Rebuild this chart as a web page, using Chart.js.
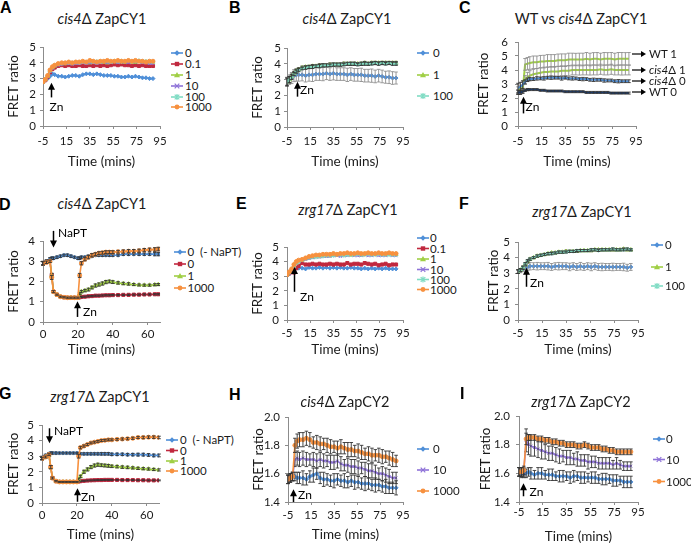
<!DOCTYPE html>
<html>
<head>
<meta charset="utf-8">
<script src="https://cdn.jsdelivr.net/npm/chart.js@4.4.0/dist/chart.umd.min.js"></script>
<style>
  html, body { margin: 0; padding: 0; background: #fff; }
  #fig { position: relative; width: 691px; height: 544px; overflow: hidden; font-family: Lato, "Open Sans", sans-serif; color: #1a1a1a; }
  #fig canvas { position: absolute; }
  .letter { position: absolute; font: bold 16px "Liberation Sans", Arial, sans-serif; line-height: 16px; color: #000; }
  .title { position: absolute; font-size: 14.5px; line-height: 1; white-space: nowrap; transform: translate(-50%, -50%); }
  .leg { position: absolute; font-size: 11.5px; line-height: 1; white-space: pre; transform: translateY(-50%); }
  #overlay { position: absolute; left: 0; top: 0; pointer-events: none; }
</style>
</head>
<body>
<div id="fig"></div>
<script>
// time points (minutes)
const T = [-5,-3,-1,1,3,5,8,11,14,17,20,23,26,29,32,35,38,41,44,47,50,53,56,59,62,65,68,71,74,77,80,83,86,89]
const TD = [0,2,4,5,6,8,10,12,14,16,18,20,21,22,24,26,28,30,32,34,36,38,40,43,46,49,52,55,58,61,64,66]
const TG = [0,2,4,5,6,8,10,12,14,16,18,20,21,22,24,26,28,30,32,34,36,38,40,43,46,49,52,55,58,61,64,67]

const xTicks95 = [-5,15,35,55,75,95]
const xTicks60 = [0,20,40,60]
const yTicks4 = [0,1,2,3,4]
const yTicks5 = [0,1,2,3,4,5]
const yTicks6 = [0,1,2,3,4,5,6]
const yTicksCY2 = [1.4,1.6,1.8,2.0]

// A: cis4 ZapCY1
const aBlue = [2.85,2.9,3.0,3.15,3.3,3.25,3.15,3.15,3.1,3.15,3.2,3.2,3.15,3.25,3.3,3.3,3.25,3.3,3.25,3.2,3.2,3.2,3.15,3.15,3.1,3.1,3.15,3.1,3.15,3.1,3.05,3.05,3.0,3.0]
const aRed = [2.8,2.9,3.1,3.4,3.6,3.7,3.8,3.85,3.8,3.85,3.8,3.8,3.85,3.8,3.8,3.85,3.8,3.85,3.8,3.85,3.8,3.85,3.9,3.85,3.9,3.85,3.85,3.8,3.85,3.8,3.85,3.8,3.8,3.8]
const aGreen = [2.8,2.95,3.15,3.5,3.7,3.8,3.9,3.95,3.95,4.0,3.95,4.0,4.0,4.05,4.0,4.0,4.05,4.0,4.05,4.05,4.0,4.05,4.1,4.05,4.1,4.05,4.1,4.05,4.05,4.1,4.05,4.05,4.0,4.05]
const aPurple = [2.8,2.9,3.1,3.45,3.65,3.8,3.85,3.9,3.95,3.95,3.9,3.95,3.95,4.0,3.95,4.0,4.0,3.95,4.0,4.05,4.0,4.0,4.05,4.0,4.05,4.05,4.0,4.05,4.1,4.05,4.0,4.0,3.95,3.95]
const aTeal = [2.8,2.95,3.2,3.5,3.7,3.85,3.9,3.95,4.0,4.0,4.0,4.05,4.0,4.05,4.05,4.1,4.05,4.1,4.05,4.1,4.1,4.05,4.1,4.1,4.05,4.1,4.15,4.1,4.1,4.15,4.1,4.1,4.05,4.05]
const aOrange = [2.8,2.95,3.2,3.55,3.75,3.85,3.95,4.0,4.0,4.05,4.0,4.05,4.05,4.1,4.05,4.15,4.1,4.05,4.1,4.1,4.15,4.1,4.1,4.15,4.1,4.1,4.15,4.1,4.15,4.1,4.1,4.05,4.1,4.1]

// B: cis4 ZapCY1 with error bars
const bBlue = [2.9,3.0,3.1,3.25,3.3,3.3,3.3,3.25,3.3,3.3,3.35,3.35,3.35,3.4,3.35,3.4,3.35,3.35,3.35,3.3,3.35,3.3,3.3,3.3,3.25,3.25,3.25,3.2,3.25,3.2,3.15,3.15,3.1,3.1]
const bBlueErr = [0.25,0.3,0.35,0.38,0.4,0.4,0.38,0.4,0.4,0.42,0.4,0.4,0.42,0.4,0.4,0.42,0.4,0.4,0.4,0.42,0.4,0.4,0.4,0.42,0.4,0.4,0.42,0.4,0.4,0.4,0.38,0.4,0.4,0.38]
const bGreen = [2.85,3.0,3.2,3.4,3.55,3.65,3.75,3.8,3.8,3.85,3.85,3.9,3.9,3.9,3.95,3.95,3.95,3.95,4.0,4.0,4.0,4.0,4.0,4.0,4.05,4.0,4.05,4.05,4.05,4.05,4.05,4.05,4.05,4.05]
const bGreenErr = [0.25,0.2,0.15,0.12,0.1,0.1,0.1,0.08,0.1,0.1,0.08,0.1,0.1,0.08,0.1,0.1,0.08,0.1,0.1,0.08,0.1,0.1,0.08,0.1,0.1,0.08,0.1,0.1,0.08,0.1,0.1,0.08,0.1,0.1]
const bTeal = [2.85,3.0,3.15,3.35,3.5,3.6,3.7,3.75,3.8,3.8,3.85,3.85,3.9,3.9,3.9,3.95,3.95,3.95,3.95,4.0,4.0,4.0,3.95,4.0,4.0,4.0,4.0,4.05,4.0,4.05,4.0,4.05,4.0,4.0]
const bTealErr = [0.25,0.2,0.15,0.1,0.1,0.1,0.08,0.1,0.1,0.1,0.08,0.1,0.1,0.1,0.08,0.1,0.1,0.1,0.08,0.1,0.1,0.1,0.08,0.1,0.1,0.1,0.08,0.1,0.1,0.1,0.08,0.1,0.1,0.1]

// C: WT vs cis4
const cWT1 = [2.45,2.5,2.55,4.4,4.45,4.5,4.55,4.55,4.6,4.6,4.65,4.65,4.65,4.7,4.7,4.7,4.75,4.75,4.75,4.75,4.75,4.8,4.75,4.8,4.8,4.75,4.8,4.8,4.8,4.75,4.8,4.8,4.8,4.8]
const cWT1Err = [0.15,0.15,0.15,0.42,0.44,0.45,0.45,0.45,0.44,0.45,0.45,0.45,0.45,0.44,0.45,0.45,0.45,0.45,0.44,0.45,0.45,0.45,0.45,0.44,0.45,0.45,0.45,0.44,0.45,0.45,0.45,0.45,0.44,0.45]
const cC1 = [2.6,2.7,2.9,3.3,3.5,3.6,3.7,3.75,3.8,3.85,3.85,3.9,3.9,3.9,3.95,3.95,3.95,4.0,4.0,4.0,4.0,4.0,4.0,4.0,4.0,4.05,4.0,4.0,4.05,4.0,4.0,4.0,4.0,4.0]
const cC1Err = [0.2,0.22,0.25,0.3,0.33,0.35,0.35,0.36,0.35,0.35,0.36,0.35,0.35,0.36,0.35,0.35,0.36,0.35,0.35,0.36,0.35,0.35,0.36,0.35,0.35,0.36,0.35,0.35,0.36,0.35,0.35,0.36,0.35,0.35]
const cC0 = [2.7,2.8,2.95,3.15,3.3,3.35,3.35,3.4,3.4,3.4,3.45,3.45,3.45,3.45,3.4,3.45,3.4,3.4,3.4,3.35,3.35,3.35,3.3,3.3,3.3,3.3,3.25,3.25,3.25,3.2,3.2,3.2,3.2,3.2]
const cC0Err = [0.35,0.32,0.28,0.15,0.12,0.12,0.1,0.12,0.1,0.12,0.1,0.12,0.1,0.1,0.12,0.1,0.1,0.12,0.1,0.1,0.12,0.1,0.1,0.12,0.1,0.1,0.12,0.1,0.1,0.1,0.12,0.1,0.1,0.1]
const cWT0 = [2.4,2.4,2.45,2.55,2.6,2.6,2.6,2.6,2.55,2.55,2.5,2.5,2.5,2.5,2.5,2.45,2.45,2.45,2.45,2.45,2.45,2.4,2.4,2.4,2.4,2.4,2.4,2.4,2.35,2.35,2.35,2.35,2.35,2.35]
const cWT0Err = [0.15,0.15,0.12,0.08,0.08,0.07,0.07,0.07,0.07,0.07,0.07,0.07,0.07,0.07,0.07,0.07,0.07,0.07,0.07,0.07,0.07,0.07,0.07,0.07,0.07,0.07,0.07,0.07,0.07,0.07,0.07,0.07,0.07,0.07]

// D: cis4 + NaPT
const dBlue = [2.9,3.0,3.1,3.15,3.15,3.2,3.25,3.3,3.3,3.25,3.2,3.15,3.15,3.2,3.2,3.25,3.25,3.3,3.3,3.3,3.3,3.3,3.3,3.3,3.35,3.35,3.35,3.35,3.35,3.35,3.35,3.35]
const dBlueErr = [0.1,0.08,0.08,0.06,0.06,0.06,0.06,0.05,0.06,0.06,0.05,0.06,0.06,0.06,0.05,0.06,0.06,0.05,0.06,0.06,0.05,0.06,0.06,0.05,0.06,0.06,0.05,0.06,0.06,0.06,0.08,0.08]
const dRed = [2.9,2.95,3.0,2.3,1.5,1.35,1.25,1.22,1.2,1.2,1.2,1.2,1.22,1.24,1.25,1.27,1.28,1.3,1.3,1.31,1.32,1.32,1.33,1.33,1.34,1.34,1.35,1.35,1.36,1.36,1.37,1.37]
const dRedErr = [0.08,0.06,0.06,0.1,0.05,0.03,0.03,0.03,0.03,0.03,0.03,0.03,0.03,0.03,0.03,0.03,0.03,0.03,0.03,0.03,0.03,0.03,0.03,0.03,0.03,0.03,0.03,0.03,0.03,0.03,0.03,0.03]
const dGreen = [2.9,2.95,3.0,2.3,1.5,1.35,1.25,1.22,1.2,1.2,1.2,1.2,1.4,1.5,1.55,1.6,1.7,1.8,1.85,1.9,1.97,2.0,1.97,1.93,1.9,1.88,1.85,1.83,1.82,1.82,1.84,1.85]
const dGreenErr = [0.08,0.06,0.06,0.1,0.05,0.03,0.03,0.03,0.03,0.03,0.03,0.03,0.05,0.06,0.06,0.07,0.07,0.08,0.08,0.08,0.08,0.07,0.07,0.06,0.06,0.06,0.05,0.05,0.05,0.05,0.05,0.05]
const dOrange = [2.9,2.95,3.0,2.2,1.5,1.35,1.25,1.22,1.2,1.2,1.2,1.2,2.3,2.9,3.1,3.2,3.3,3.35,3.4,3.42,3.45,3.45,3.45,3.47,3.48,3.5,3.5,3.52,3.55,3.57,3.58,3.6]
const dOrangeErr = [0.08,0.06,0.06,0.1,0.05,0.03,0.03,0.03,0.03,0.03,0.03,0.03,0.1,0.08,0.08,0.08,0.08,0.07,0.07,0.07,0.07,0.07,0.07,0.07,0.08,0.08,0.08,0.08,0.08,0.08,0.09,0.09]

// E: zrg17 ZapCY1
const eBlue = [3.1,3.15,3.3,3.5,3.55,3.55,3.55,3.5,3.6,3.55,3.55,3.6,3.55,3.6,3.55,3.6,3.55,3.6,3.55,3.55,3.6,3.55,3.55,3.5,3.55,3.5,3.55,3.5,3.55,3.5,3.55,3.5,3.5,3.5]
const eRed = [3.1,3.2,3.3,3.25,3.55,3.7,3.9,3.8,3.8,3.85,3.8,3.85,3.8,3.8,3.85,3.8,3.85,3.8,3.8,3.9,3.8,3.85,3.85,3.8,3.9,3.85,3.8,3.85,3.75,3.8,3.85,3.75,3.8,3.8]
const eGreen = [3.1,3.25,3.45,3.7,3.9,4.0,4.1,4.2,4.25,4.3,4.35,4.35,4.4,4.4,4.4,4.45,4.45,4.45,4.45,4.5,4.45,4.5,4.5,4.45,4.5,4.5,4.5,4.5,4.5,4.5,4.5,4.5,4.5,4.5]
const ePurple = [3.1,3.2,3.4,3.65,3.85,3.95,4.05,4.15,4.2,4.25,4.3,4.3,4.35,4.35,4.35,4.4,4.4,4.35,4.4,4.4,4.45,4.4,4.4,4.4,4.45,4.4,4.4,4.45,4.4,4.4,4.4,4.45,4.4,4.4]
const eTeal = [3.1,3.25,3.45,3.7,3.9,4.0,4.1,4.2,4.25,4.3,4.3,4.35,4.35,4.4,4.4,4.4,4.45,4.45,4.4,4.45,4.45,4.45,4.5,4.45,4.45,4.5,4.45,4.45,4.5,4.45,4.45,4.45,4.45,4.45]
const eOrange = [3.1,3.3,3.5,3.8,4.0,4.1,4.15,4.25,4.35,4.4,4.45,4.45,4.5,4.5,4.5,4.55,4.5,4.55,4.55,4.6,4.55,4.55,4.6,4.55,4.55,4.6,4.55,4.55,4.6,4.55,4.55,4.6,4.55,4.55]

// F: zrg17 ZapCY1 with error bars
const fBlue = [3.1,3.15,3.25,3.35,3.4,3.45,3.45,3.45,3.45,3.45,3.45,3.4,3.45,3.45,3.45,3.45,3.4,3.45,3.4,3.45,3.4,3.45,3.4,3.45,3.4,3.4,3.4,3.4,3.4,3.4,3.4,3.4,3.35,3.4]
const fBlueErr = [0.1,0.12,0.15,0.2,0.22,0.24,0.22,0.24,0.22,0.22,0.24,0.22,0.22,0.24,0.22,0.22,0.24,0.22,0.22,0.24,0.22,0.22,0.24,0.22,0.22,0.24,0.22,0.22,0.24,0.22,0.22,0.24,0.22,0.22]
const fGreen = [3.1,3.2,3.35,3.55,3.75,3.9,4.0,4.1,4.15,4.2,4.25,4.3,4.3,4.35,4.35,4.4,4.4,4.4,4.4,4.45,4.45,4.45,4.45,4.5,4.5,4.5,4.5,4.5,4.5,4.5,4.5,4.55,4.5,4.5]
const fGreenErr = [0.12,0.1,0.1,0.08,0.08,0.07,0.07,0.07,0.06,0.07,0.07,0.06,0.07,0.07,0.06,0.07,0.07,0.06,0.07,0.07,0.06,0.07,0.07,0.06,0.07,0.07,0.06,0.07,0.07,0.06,0.07,0.07,0.06,0.07]
const fTeal = [3.1,3.2,3.35,3.6,3.8,3.9,4.0,4.1,4.15,4.2,4.25,4.25,4.3,4.35,4.35,4.35,4.4,4.4,4.45,4.45,4.45,4.45,4.5,4.5,4.45,4.5,4.5,4.5,4.55,4.5,4.5,4.5,4.55,4.5]
const fTealErr = [0.12,0.1,0.1,0.08,0.07,0.07,0.06,0.07,0.07,0.06,0.07,0.07,0.06,0.07,0.07,0.06,0.07,0.07,0.06,0.07,0.07,0.06,0.07,0.07,0.06,0.07,0.07,0.06,0.07,0.07,0.06,0.07,0.07,0.06]

// G: zrg17 + NaPT
const gBlue = [2.9,3.05,3.15,3.2,3.2,3.2,3.2,3.2,3.2,3.2,3.2,3.2,3.15,3.15,3.15,3.15,3.15,3.15,3.15,3.15,3.15,3.15,3.12,3.12,3.12,3.1,3.1,3.1,3.1,3.08,3.05,3.05]
const gBlueErr = [0.1,0.08,0.08,0.07,0.07,0.07,0.06,0.06,0.06,0.06,0.06,0.06,0.06,0.07,0.07,0.07,0.07,0.07,0.07,0.08,0.08,0.08,0.08,0.08,0.08,0.08,0.08,0.09,0.09,0.09,0.09,0.09]
const gRed = [2.85,2.95,3.05,2.3,1.6,1.4,1.35,1.35,1.35,1.35,1.35,1.35,1.38,1.4,1.42,1.44,1.45,1.46,1.47,1.47,1.48,1.48,1.48,1.48,1.47,1.47,1.47,1.46,1.46,1.45,1.45,1.45]
const gRedErr = [0.08,0.06,0.06,0.1,0.06,0.04,0.03,0.03,0.03,0.03,0.03,0.03,0.03,0.03,0.03,0.03,0.03,0.03,0.03,0.03,0.03,0.03,0.03,0.03,0.03,0.03,0.03,0.03,0.03,0.03,0.03,0.03]
const gGreen = [2.85,2.95,3.05,2.3,1.6,1.4,1.35,1.35,1.35,1.35,1.35,1.35,1.5,1.7,2.0,2.15,2.3,2.4,2.45,2.42,2.4,2.38,2.35,2.33,2.3,2.28,2.25,2.22,2.2,2.18,2.15,2.12]
const gGreenErr = [0.08,0.06,0.06,0.1,0.06,0.04,0.03,0.03,0.03,0.03,0.03,0.03,0.06,0.08,0.1,0.1,0.1,0.1,0.1,0.09,0.09,0.09,0.08,0.08,0.08,0.08,0.07,0.07,0.07,0.07,0.07,0.07]
const gOrange = [2.85,2.95,3.1,2.3,1.6,1.4,1.35,1.35,1.35,1.35,1.35,1.35,3.0,3.55,3.65,3.75,3.85,3.9,3.95,4.0,4.02,4.05,4.05,4.08,4.1,4.12,4.15,4.2,4.2,4.22,4.22,4.2]
const gOrangeErr = [0.08,0.06,0.06,0.1,0.06,0.04,0.03,0.03,0.03,0.03,0.03,0.03,0.12,0.08,0.07,0.07,0.06,0.06,0.06,0.06,0.06,0.06,0.06,0.06,0.07,0.07,0.07,0.07,0.08,0.08,0.08,0.08]

// H: cis4 ZapCY2
const hBlue = [1.56,1.57,1.58,1.58,1.57,1.57,1.57,1.56,1.58,1.59,1.6,1.57,1.56,1.56,1.55,1.55,1.56,1.55,1.55,1.54,1.55,1.54,1.54,1.53,1.53,1.53,1.52,1.52,1.52,1.51,1.51,1.5,1.5,1.5]
const hBlueErr = [0.03,0.03,0.03,0.03,0.04,0.04,0.05,0.04,0.04,0.05,0.04,0.04,0.05,0.04,0.04,0.05,0.04,0.04,0.05,0.04,0.04,0.05,0.04,0.04,0.05,0.04,0.04,0.05,0.04,0.04,0.05,0.04,0.04,0.05]
const hPurple = [1.56,1.57,1.58,1.70,1.71,1.70,1.71,1.70,1.70,1.70,1.69,1.70,1.69,1.69,1.68,1.68,1.69,1.67,1.66,1.66,1.65,1.65,1.64,1.64,1.63,1.62,1.62,1.61,1.60,1.60,1.59,1.58,1.57,1.57]
const hPurpleErr = [0.03,0.03,0.03,0.05,0.05,0.05,0.05,0.05,0.04,0.05,0.05,0.05,0.05,0.04,0.05,0.05,0.05,0.05,0.04,0.05,0.05,0.05,0.05,0.04,0.05,0.05,0.05,0.05,0.04,0.05,0.05,0.05,0.04,0.04]
const hOrange = [1.56,1.57,1.58,1.80,1.83,1.84,1.84,1.85,1.84,1.82,1.82,1.81,1.81,1.80,1.79,1.79,1.78,1.79,1.78,1.77,1.77,1.76,1.76,1.75,1.74,1.74,1.73,1.73,1.73,1.72,1.72,1.71,1.70,1.69]
const hOrangeErr = [0.03,0.03,0.03,0.05,0.05,0.05,0.05,0.05,0.05,0.04,0.05,0.05,0.04,0.05,0.05,0.04,0.05,0.05,0.04,0.05,0.05,0.04,0.05,0.05,0.04,0.05,0.05,0.04,0.05,0.05,0.04,0.05,0.05,0.04]

// I: zrg17 ZapCY2
const iBlue = [1.61,1.6,1.6,1.6,1.61,1.6,1.59,1.6,1.6,1.59,1.59,1.59,1.58,1.58,1.58,1.58,1.57,1.58,1.58,1.57,1.57,1.57,1.57,1.57,1.56,1.56,1.56,1.56,1.55,1.55,1.55,1.54,1.54,1.54]
const iBlueErr = [0.03,0.03,0.03,0.03,0.03,0.04,0.03,0.04,0.04,0.03,0.04,0.04,0.03,0.04,0.04,0.03,0.04,0.04,0.03,0.04,0.04,0.03,0.04,0.04,0.03,0.04,0.04,0.03,0.04,0.04,0.03,0.04,0.04,0.04]
const iPurple = [1.61,1.61,1.61,1.83,1.80,1.79,1.78,1.77,1.76,1.75,1.74,1.74,1.73,1.72,1.72,1.71,1.71,1.70,1.70,1.69,1.69,1.68,1.68,1.68,1.67,1.67,1.67,1.67,1.66,1.67,1.66,1.65,1.65,1.65]
const iPurpleErr = [0.03,0.03,0.03,0.08,0.07,0.07,0.06,0.06,0.06,0.05,0.05,0.05,0.05,0.05,0.04,0.05,0.05,0.04,0.05,0.04,0.04,0.05,0.04,0.04,0.04,0.04,0.04,0.04,0.03,0.04,0.03,0.03,0.03,0.03]
const iOrange = [1.61,1.61,1.62,1.84,1.85,1.85,1.85,1.84,1.84,1.83,1.83,1.82,1.82,1.81,1.81,1.80,1.80,1.80,1.79,1.79,1.80,1.79,1.78,1.78,1.78,1.77,1.77,1.76,1.76,1.75,1.75,1.75,1.75,1.75]
const iOrangeErr = [0.03,0.03,0.03,0.04,0.02,0.02,0.02,0.02,0.02,0.02,0.02,0.02,0.02,0.02,0.02,0.02,0.02,0.02,0.02,0.02,0.02,0.02,0.02,0.02,0.02,0.02,0.02,0.02,0.02,0.02,0.02,0.02,0.02,0.02]

const BLUE = "#4f8fd8", RED = "#c0283e", GREEN = "#a0cf45", PURPLE = "#8e72d8"
const TEAL = "#80dcc4", ORANGE = "#f7913f", NAVY = "#1c3c6e"
const GREY = "#8f8f8f", DARK = "#333333"

const STY = {
  "0": [BLUE, "rectRot"], "0.1": [RED, "rect"], "1": [GREEN, "triangle"],
  "10": [PURPLE, "crossRot"], "100": [TEAL, "star"], "1000": [ORANGE, "circle"]
}
const ser = (label, key, data, err, errColor) =>
  ({ label, color: STY[key][0], point: STY[key][1], data, err, errColor })

Chart.defaults.font.family = "Lato, 'Open Sans', sans-serif"
Chart.defaults.color = "#1a1a1a"

const panels = [
  { letter: "A", letterAt: [0, 0], title: "<i>cis4</i>Δ ZapCY1", titleAt: [102, 19],
    area: [43, 47, 160, 126], x: [-5, 95], xTicks: xTicks95, y: [0, 5], yTicks: yTicks5, times: T,
    pads: { yTitle: 10.2, xTitle: 2.2, xTick: 5.4, yTick: 4 },
    series: [ser("0", "0", aBlue), ser("0.1", "0.1", aRed), ser("1", "1", aGreen),
             ser("10", "10", aPurple), ser("100", "100", aTeal), ser("1000", "1000", aOrange)],
    legend: { mx: 177, tx: 185, rows: [53, 64, 75, 86, 97, 107] },
    arrows: [{ x: 1.8, from: 1.81, to: 2.73, text: "Zn", dx: 5, dy: 10 }] },
  { letter: "B", letterAt: [229, 0], title: "<i>cis4</i>Δ ZapCY1", titleAt: [347, 19],
    area: [287, 48, 403, 127], x: [-5, 95], xTicks: xTicks95, y: [0, 5], yTicks: yTicks5, times: T,
    pads: { yTitle: 10.2, xTitle: 3.2, xTick: 4.4, yTick: 3 },
    series: [ser("0", "0", bBlue, bBlueErr, GREY), ser("1", "1", bGreen, bGreenErr, DARK),
             ser("100", "100", bTeal, bTealErr, DARK)],
    legend: { mx: 423, tx: 433, rows: [53, 75, 96] },
    arrows: [{ x: 3.4, from: 1.92, to: 2.87, text: "Zn", dx: 9.5, dy: -7 }] },
  { letter: "C", letterAt: [459, 0], title: "WT vs <i>cis4</i>Δ ZapCY1", titleAt: [581, 19],
    area: [518, 42, 636, 126], x: [-5, 95], xTicks: xTicks95, y: [0, 6], yTicks: yTicks6, times: T,
    pads: { yTitle: 5.2, xTitle: 2.2, xTick: 5.4, yTick: 7 },
    series: [
      { label: "WT 1", color: GREEN, point: "circle", small: true, data: cWT1, err: cWT1Err, errColor: GREY },
      { label: "cis4Δ 1", color: GREEN, point: "circle", small: true, data: cC1, err: cC1Err, errColor: GREY },
      { label: "cis4Δ 0", color: BLUE, point: "circle", small: true, data: cC0, err: cC0Err, errColor: DARK },
      { label: "WT 0", color: NAVY, point: "circle", small: true, data: cWT0, err: cWT0Err, errColor: DARK }],
    tags: { x0: 632, x1: 646, tx: 649, rows: [54, 70, 81, 92],
            texts: ["WT 1", "<i>cis4</i>Δ 1", "<i>cis4</i>Δ 0", "WT 0"] },
    arrows: [{ x: -1.0, from: 0.9, to: 2.09, text: "Zn", dx: 9, dy: -6.5 }] },
  { letter: "D", letterAt: [-1, 197], title: "<i>cis4</i>Δ ZapCY1", titleAt: [102, 204],
    area: [43, 241, 160, 322], x: [0, 67], xTicks: xTicks60, y: [0, 4], yTicks: yTicks4, times: TD,
    pads: { yTitle: 10.7, xTitle: 10.2, xTick: 2.4, yTick: 5 },
    series: [ser("0  (- NaPT)", "0", dBlue, dBlueErr, DARK), ser("0", "0.1", dRed, dRedErr, DARK),
             ser("1", "1", dGreen, dGreenErr, DARK), ser("1000", "1000", dOrange, dOrangeErr, DARK)],
    legend: { mx: 180, tx: 187.5, rows: [252, 264, 276, 288] },
    arrows: [{ x: 5.9, from: 4.5, to: 3.68, text: "NaPT", dx: 19, dy: 2 },
             { x: 19.7, from: 0.25, to: 1.03, text: "Zn", dx: 12.5, dy: -5 }] },
  { letter: "E", letterAt: [236, 196], title: "<i>zrg17</i>Δ ZapCY1", titleAt: [348, 210],
    area: [287, 247, 403, 320], x: [-5, 95], xTicks: xTicks95, y: [0, 5], yTicks: yTicks5, times: T,
    pads: { yTitle: 10.2, xTitle: 8.2, xTick: 3, yTick: 5 },
    series: [ser("0", "0", eBlue), ser("0.1", "0.1", eRed), ser("1", "1", eGreen),
             ser("10", "10", ePurple), ser("100", "100", eTeal), ser("1000", "1000", eOrange)],
    legend: { mx: 423, tx: 430, rows: [238, 248.5, 259, 269.5, 279.5, 289.5] },
    arrows: [{ x: 0.7, from: 1.93, to: 3.63, text: "Zn", dx: 12.5, dy: 5 }] },
  { letter: "F", letterAt: [459, 196], title: "<i>zrg17</i>Δ ZapCY1", titleAt: [582, 212],
    area: [518, 242, 638, 320], x: [-5, 95], xTicks: xTicks95, y: [0, 5], yTicks: yTicks5, times: T,
    pads: { yTitle: 15.2, xTitle: 8.2, xTick: 3.4, yTick: 5 },
    series: [ser("0", "0", fBlue, fBlueErr, GREY), ser("1", "1", fGreen, fGreenErr, DARK),
             ser("100", "100", fTeal, fTealErr, DARK)],
    legend: { mx: 657, tx: 665, rows: [245, 267, 286] },
    arrows: [{ x: 1.4, from: 2.13, to: 3.35, text: "Zn", dx: 10.5, dy: -3.5 }] },
  { letter: "G", letterAt: [-1, 386], title: "<i>zrg17</i>Δ ZapCY1", titleAt: [100, 397],
    area: [42, 425, 159, 503], x: [0, 67], xTicks: xTicks60, y: [0, 5], yTicks: yTicks5, times: TG,
    pads: { yTitle: 11.2, xTitle: 6.2, xTick: 2.4, yTick: 5 },
    series: [ser("0  (- NaPT)", "0", gBlue, gBlueErr, DARK), ser("0", "0.1", gRed, gRedErr, DARK),
             ser("1", "1", gGreen, gGreenErr, DARK), ser("1000", "1000", gOrange, gOrangeErr, DARK)],
    legend: { mx: 172, tx: 180, rows: [440, 450.5, 461, 471] },
    arrows: [{ x: 4.2, from: 4.79, to: 3.83, text: "NaPT", dx: 19, dy: 2.4 },
             { x: 20.1, from: 0.08, to: 0.94, text: "Zn", dx: 10.5, dy: -5 }] },
  { letter: "H", letterAt: [229, 387], title: "<i>cis4</i>Δ ZapCY2", titleAt: [345, 402],
    area: [288, 417, 403, 502], x: [-5, 95], xTicks: xTicks95, y: [1.4, 2.0], yTicks: yTicksCY2, times: T, dec: 1,
    pads: { yTitle: 10.2, xTitle: 5.2, xTick: 3.4, yTick: 5 },
    series: [ser("0", "0", hBlue, hBlueErr, DARK), ser("10", "10", hPurple, hPurpleErr, DARK),
             ser("1000", "1000", hOrange, hOrangeErr, DARK)],
    legend: { mx: 423, tx: 433, rows: [449, 470, 491] },
    arrows: [{ x: -0.4, from: 1.40, to: 1.49, text: "Zn", dx: 11.5, dy: -6.5 }] },
  { letter: "I", letterAt: [460, 386], title: "<i>zrg17</i>Δ ZapCY2", titleAt: [581, 402],
    area: [519, 416, 638, 502], x: [-5, 95], xTicks: xTicks95, y: [1.4, 2.0], yTicks: yTicksCY2, times: T, dec: 1,
    pads: { yTitle: 6.2, xTitle: 3.2, xTick: 0.4, yTick: 6 },
    series: [ser("0", "0", iBlue, iBlueErr, DARK), ser("10", "10", iPurple, iPurpleErr, DARK),
             ser("1000", "1000", iOrange, iOrangeErr, DARK)],
    legend: { mx: 659, tx: 666, rows: [439, 459.5, 481.5] },
    arrows: [{ x: -1.4, from: 1.44, to: 1.53, text: "Zn", dx: 13, dy: -4 }] }
]

const fig = document.getElementById("fig")

// error bars drawn right after their own series, like the original
const errorBars = {
  id: "errorBars",
  afterDatasetDraw(chart, args) {
    const ds = chart.data.datasets[args.index]
    if (!ds.errors) return
    const ctx = chart.ctx, ys = chart.scales.y
    ctx.save()
    ctx.strokeStyle = ds.errColor
    ctx.lineWidth = 0.9
    ctx.beginPath()
    args.meta.data.forEach((pt, i) => {
      const v = ds.data[i].y, e = ds.errors[i]
      const y1 = ys.getPixelForValue(v + e), y2 = ys.getPixelForValue(v - e)
      ctx.moveTo(pt.x, y1); ctx.lineTo(pt.x, y2)
      ctx.moveTo(pt.x - 1.8, y1); ctx.lineTo(pt.x + 1.8, y1)
      ctx.moveTo(pt.x - 1.8, y2); ctx.lineTo(pt.x + 1.8, y2)
    })
    ctx.stroke()
    ctx.restore()
  }
}

// Zn / NaPT arrows, placed in data units
const arrowPlugin = list => ({
  id: "arrows",
  afterDraw(chart) {
    const { ctx, scales: { x, y } } = chart
    ctx.save()
    ctx.strokeStyle = "#000"
    ctx.fillStyle = "#000"
    ctx.lineWidth = 1.5
    list.forEach(a => {
      const px = Math.round(x.getPixelForValue(a.x)) + 0.5
      const p1 = y.getPixelForValue(a.from), p2 = y.getPixelForValue(a.to)
      const dir = Math.sign(p2 - p1)
      ctx.beginPath()
      ctx.moveTo(px, p1); ctx.lineTo(px, p2 - dir * 5)
      ctx.stroke()
      ctx.beginPath()
      ctx.moveTo(px, p2); ctx.lineTo(px - 3.5, p2 - dir * 7); ctx.lineTo(px + 3.5, p2 - dir * 7)
      ctx.closePath(); ctx.fill()
      ctx.font = "12px Lato"
      ctx.textAlign = "center"
      ctx.textBaseline = "middle"
      ctx.fillText(a.text, px + a.dx, p1 + a.dy)
    })
    ctx.restore()
  }
})

const PL = 48, PT = 14, PR = 14, PB = 46

function buildChart(p) {
  const [l, t, r, b] = p.area
  const w = r - l + PL + PR, h = b - t + PT + PB
  const cv = document.createElement("canvas")
  cv.width = w; cv.height = h
  cv.style.left = (l - PL) + "px"; cv.style.top = (t - PT) + "px"
  cv.style.width = w + "px"; cv.style.height = h + "px"
  fig.appendChild(cv)

  const n = p.series.length
  const axisCol = "#8c8c8c"
  new Chart(cv, {
    type: "line",
    data: {
      datasets: p.series.map((s, i) => ({
        label: s.label,
        data: p.times.map((tt, j) => ({ x: tt, y: s.data[j] })),
        borderColor: s.color,
        backgroundColor: s.color,
        borderWidth: s.small ? 2 : 1.6,
        pointStyle: s.point,
        pointRadius: s.small ? 0 : (s.point === "triangle" ? 2.3 : s.point === "rect" ? 2.2 : 2),
        pointBorderWidth: 1,
        tension: 0,
        order: n - i,
        errors: s.err,
        errColor: s.errColor
      }))
    },
    options: {
      responsive: false,
      animation: false,
      devicePixelRatio: 1,
      events: [],
      layout: { padding: { left: 0, top: PT, right: PR, bottom: 0 } },
      plugins: { legend: { display: false }, tooltip: { enabled: false } },
      scales: {
        x: {
          type: "linear", min: p.x[0], max: p.x[1],
          afterFit: s => { s.height = PB },
          afterBuildTicks: s => { s.ticks = p.xTicks.map(v => ({ value: v })) },
          grid: { drawOnChartArea: false, drawTicks: true, tickLength: 3, color: axisCol },
          border: { color: axisCol },
          ticks: { font: { size: 11.5 }, padding: p.pads.xTick, maxRotation: 0, autoSkip: false },
          title: { display: true, text: "Time (mins)", font: { size: 13.5 },
                   padding: { top: 0, bottom: p.pads.xTitle } }
        },
        y: {
          type: "linear", min: p.y[0], max: p.y[1],
          afterFit: s => { s.width = PL },
          afterBuildTicks: s => { s.ticks = p.yTicks.map(v => ({ value: v })) },
          grid: { drawOnChartArea: false, drawTicks: true, tickLength: 3, color: axisCol },
          border: { color: axisCol },
          ticks: { font: { size: 11.5 }, padding: p.pads.yTick, autoSkip: false,
                   callback: v => p.dec ? Number(v).toFixed(p.dec) : String(v) },
          title: { display: true, text: "FRET ratio", font: { size: 13.5 },
                   padding: { top: p.pads.yTitle, bottom: 0 } }
        }
      }
    },
    plugins: [errorBars, arrowPlugin(p.arrows)]
  })
}

function addDiv(cls, html, x, y) {
  const d = document.createElement("div")
  d.className = cls
  d.innerHTML = html
  d.style.left = x + "px"
  d.style.top = y + "px"
  fig.appendChild(d)
  return d
}

const SVGNS = "http://www.w3.org/2000/svg"
const svg = document.createElementNS(SVGNS, "svg")
svg.setAttribute("id", "overlay")
svg.setAttribute("width", 691)
svg.setAttribute("height", 544)

function el(tag, attrs) {
  const e = document.createElementNS(SVGNS, tag)
  for (const k in attrs) e.setAttribute(k, attrs[k])
  svg.appendChild(e)
  return e
}

function marker(kind, cx, cy, color) {
  const r = 2.7
  if (kind === "rectRot") el("polygon", { points: `${cx},${cy - r} ${cx + r},${cy} ${cx},${cy + r} ${cx - r},${cy}`, fill: color })
  else if (kind === "rect") el("rect", { x: cx - 2.2, y: cy - 2.2, width: 4.4, height: 4.4, fill: color })
  else if (kind === "triangle") el("polygon", { points: `${cx},${cy - 3} ${cx + 3},${cy + 2.2} ${cx - 3},${cy + 2.2}`, fill: color })
  else if (kind === "circle") el("circle", { cx, cy, r: 2.4, fill: color })
  else {
    const d = 2.3
    let path = `M${cx - d},${cy - d}L${cx + d},${cy + d}M${cx - d},${cy + d}L${cx + d},${cy - d}`
    if (kind === "star") path += `M${cx},${cy - 3}L${cx},${cy + 3}`
    el("path", { d: path, stroke: color, "stroke-width": 1.2, fill: "none" })
  }
}

panels.forEach(p => {
  buildChart(p)
  addDiv("letter", p.letter, p.letterAt[0], p.letterAt[1])
  addDiv("title", p.title, p.titleAt[0], p.titleAt[1])
  if (p.legend) {
    p.series.forEach((s, i) => {
      const y = p.legend.rows[i], mx = p.legend.mx
      el("line", { x1: mx - 6, y1: y, x2: mx + 6, y2: y, stroke: s.color, "stroke-width": 1.6 })
      marker(s.point, mx, y, s.color)
      addDiv("leg", s.label, p.legend.tx, y)
    })
  }
  if (p.tags) {
    const g = p.tags
    g.rows.forEach((y, i) => {
      el("line", { x1: g.x0, y1: y, x2: g.x1 - 4, y2: y, stroke: "#000", "stroke-width": 1.2 })
      el("polygon", { points: `${g.x1 - 5},${y - 3} ${g.x1},${y} ${g.x1 - 5},${y + 3}`, fill: "#000" })
      addDiv("leg", g.texts[i], g.tx, y)
    })
  }
})
fig.appendChild(svg)
</script>
</body>
</html>
